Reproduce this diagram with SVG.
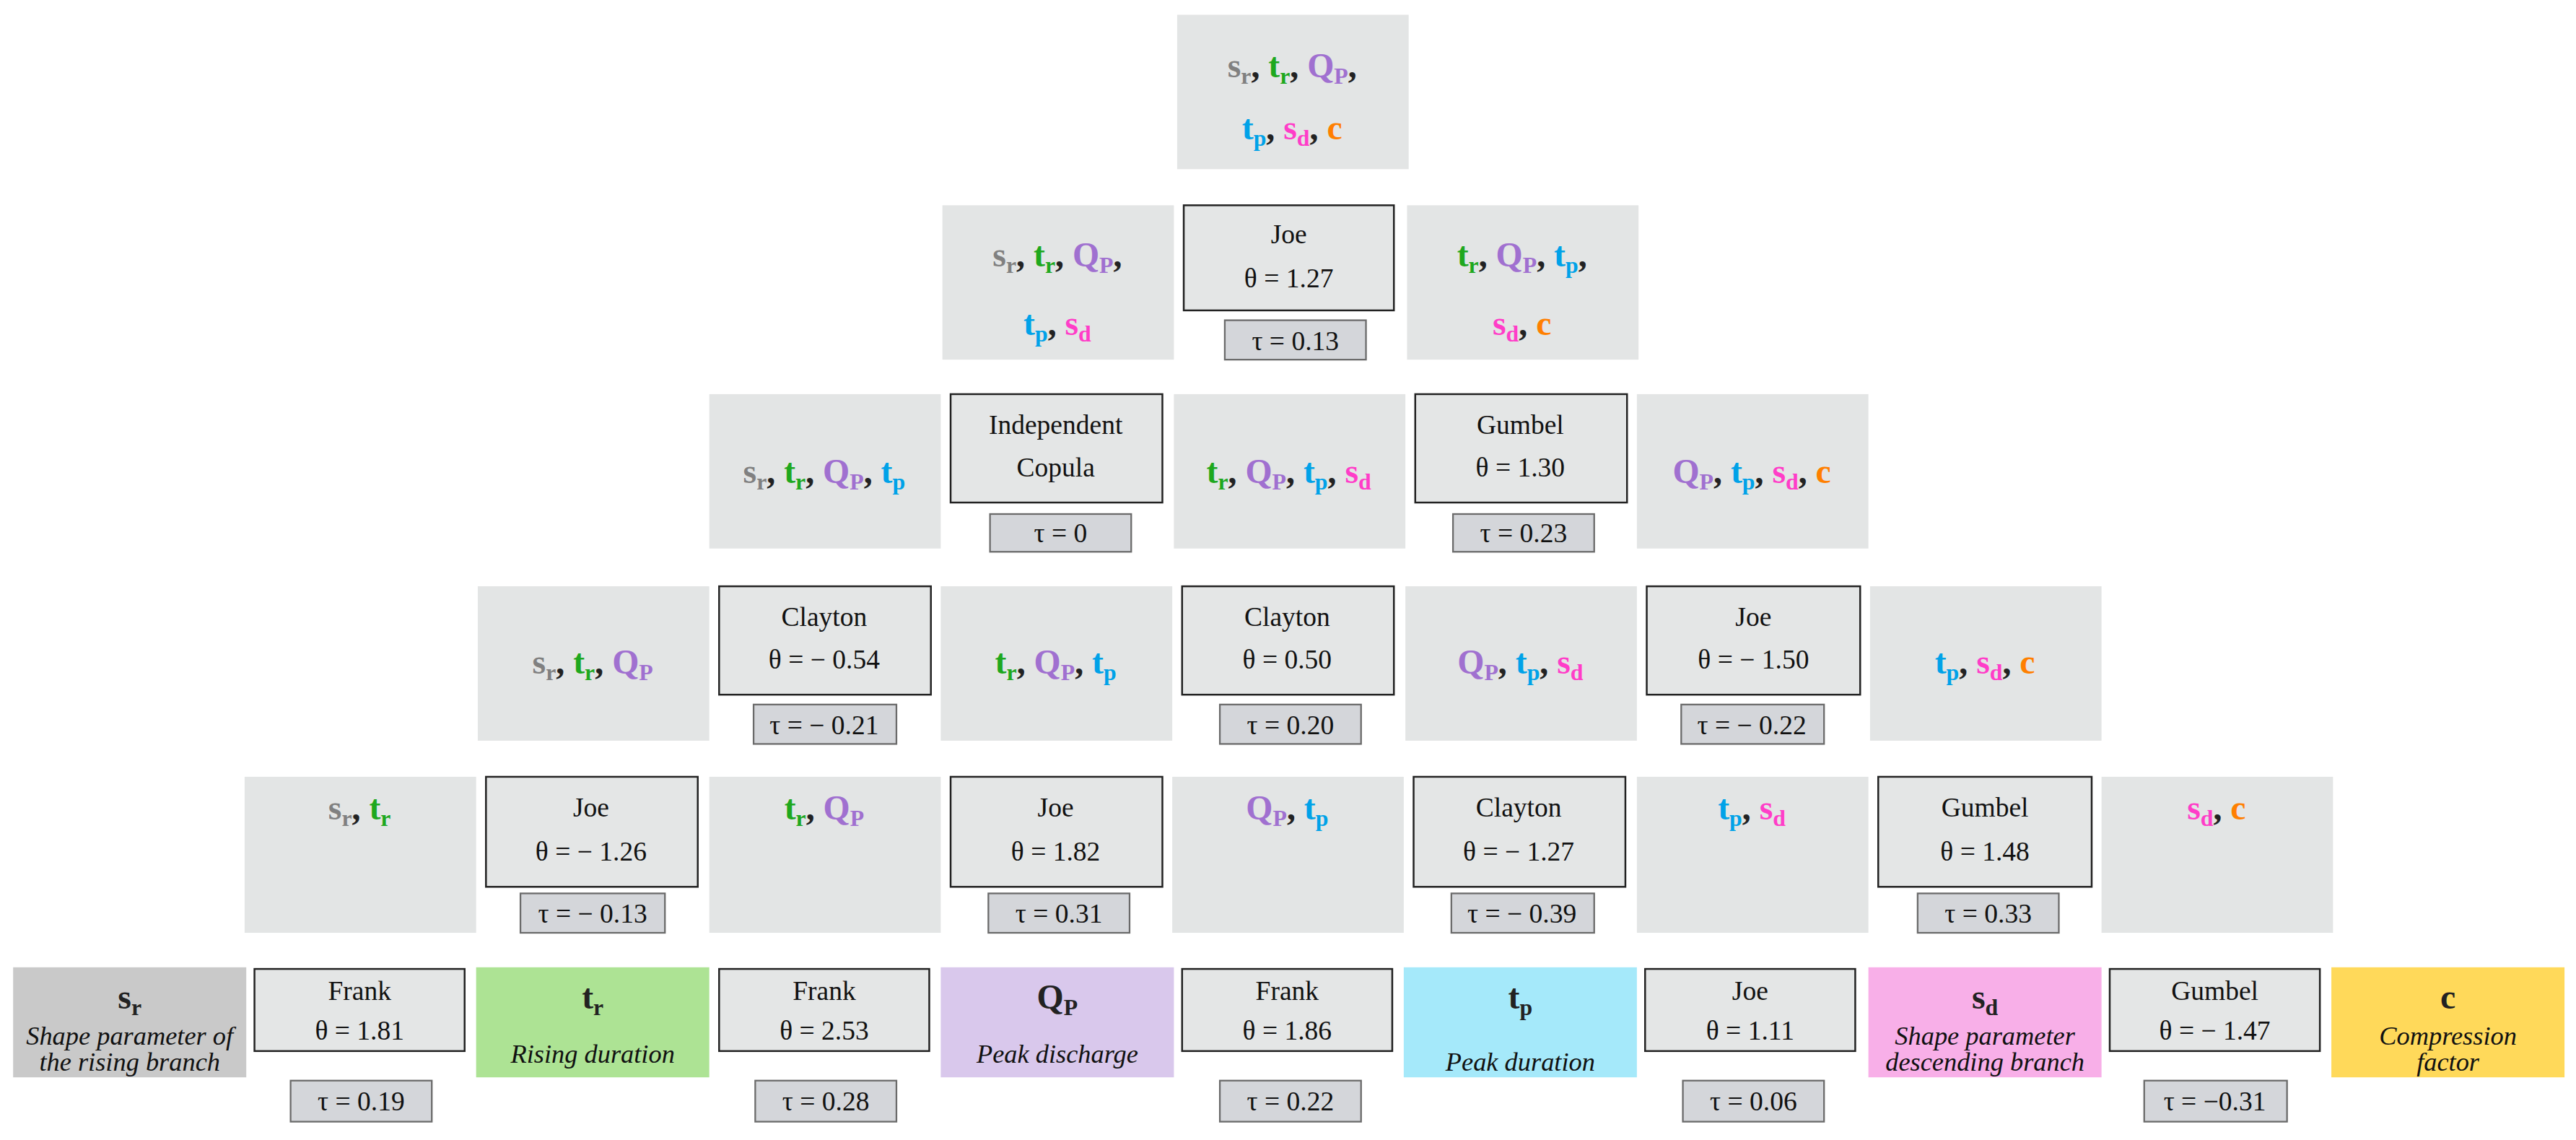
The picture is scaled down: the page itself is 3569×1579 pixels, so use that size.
<svg xmlns="http://www.w3.org/2000/svg" width="3569" height="1579" viewBox="0 0 3569 1579">
<style>
.vb{fill:#e3e5e5}
.cb{fill:#e4e6e6;stroke:#222;stroke-width:1.1}
.tb{fill:#d4d6da;stroke:#6a6a6a;stroke-width:1}
.v{font-family:"Liberation Serif","DejaVu Serif",serif;font-weight:bold;font-size:21px;text-anchor:middle;fill:#222}
.c{font-family:"Liberation Serif","DejaVu Serif",serif;font-size:16.5px;text-anchor:middle;fill:#111}
.d{font-family:"Liberation Serif","DejaVu Serif",serif;font-style:italic;font-size:16px;text-anchor:middle;fill:#111}
.s{font-size:14px}
.gr{fill:#808080}.gn{fill:#1ea81e}.pu{fill:#a070d0}.bl{fill:#00a2e8}.pk{fill:#ff3dc8}.or{fill:#ff7f00}
</style>
<g transform="scale(2.2747)">
<g id="connectors"></g>
<!-- Row 1 -->
<g id="n1"><rect class="vb" x="717" y="9" width="141" height="94"/>
<text class="v" x="787" y="47"><tspan class="gr">s</tspan><tspan class="gr s" dy="4">r</tspan><tspan dy="-4">, </tspan><tspan class="gn">t</tspan><tspan class="gn s" dy="4">r</tspan><tspan dy="-4">, </tspan><tspan class="pu">Q</tspan><tspan class="pu s" dy="4">P</tspan><tspan dy="-4">,</tspan></text>
<text class="v" x="787" y="85"><tspan class="bl">t</tspan><tspan class="bl s" dy="4">p</tspan><tspan dy="-4">, </tspan><tspan class="pk">s</tspan><tspan class="pk s" dy="4">d</tspan><tspan dy="-4">, </tspan><tspan class="or">c</tspan></text></g>
<!-- Row 2 -->
<g id="n2a"><rect class="vb" x="574" y="125" width="141" height="94"/>
<text class="v" x="644" y="162"><tspan class="gr">s</tspan><tspan class="gr s" dy="4">r</tspan><tspan dy="-4">, </tspan><tspan class="gn">t</tspan><tspan class="gn s" dy="4">r</tspan><tspan dy="-4">, </tspan><tspan class="pu">Q</tspan><tspan class="pu s" dy="4">P</tspan><tspan dy="-4">,</tspan></text>
<text class="v" x="644" y="204"><tspan class="bl">t</tspan><tspan class="bl s" dy="4">p</tspan><tspan dy="-4">, </tspan><tspan class="pk">s</tspan><tspan class="pk s" dy="4">d</tspan></text></g>
<g id="c2a"><rect class="cb" x="721" y="125" width="128" height="64"/><text class="c" x="785" y="148">Joe</text><text class="c" x="785" y="175">θ = 1.27</text>
<rect class="tb" x="746" y="195" width="86" height="24"/><text class="c" x="789" y="213">τ = 0.13</text></g>
<g id="n2b"><rect class="vb" x="857" y="125" width="141" height="94"/>
<text class="v" x="927" y="162"><tspan class="gn">t</tspan><tspan class="gn s" dy="4">r</tspan><tspan dy="-4">, </tspan><tspan class="pu">Q</tspan><tspan class="pu s" dy="4">P</tspan><tspan dy="-4">, </tspan><tspan class="bl">t</tspan><tspan class="bl s" dy="4">p</tspan><tspan dy="-4">,</tspan></text>
<text class="v" x="927" y="204"><tspan class="pk">s</tspan><tspan class="pk s" dy="4">d</tspan><tspan dy="-4">, </tspan><tspan class="or">c</tspan></text></g>
<!-- Row 3 -->
<g id="n3a"><rect class="vb" x="432" y="240" width="141" height="94"/>
<text class="v" x="502" y="294"><tspan class="gr">s</tspan><tspan class="gr s" dy="4">r</tspan><tspan dy="-4">, </tspan><tspan class="gn">t</tspan><tspan class="gn s" dy="4">r</tspan><tspan dy="-4">, </tspan><tspan class="pu">Q</tspan><tspan class="pu s" dy="4">P</tspan><tspan dy="-4">, </tspan><tspan class="bl">t</tspan><tspan class="bl s" dy="4">p</tspan></text></g>
<g id="c3a"><rect class="cb" x="579" y="240" width="129" height="66"/><text class="c" x="643" y="264">Independent</text><text class="c" x="643" y="290">Copula</text>
<rect class="tb" x="603" y="313" width="86" height="23"/><text class="c" x="646" y="330">τ = 0</text></g>
<g id="n3b"><rect class="vb" x="715" y="240" width="141" height="94"/>
<text class="v" x="785" y="294"><tspan class="gn">t</tspan><tspan class="gn s" dy="4">r</tspan><tspan dy="-4">, </tspan><tspan class="pu">Q</tspan><tspan class="pu s" dy="4">P</tspan><tspan dy="-4">, </tspan><tspan class="bl">t</tspan><tspan class="bl s" dy="4">p</tspan><tspan dy="-4">, </tspan><tspan class="pk">s</tspan><tspan class="pk s" dy="4">d</tspan></text></g>
<g id="c3b"><rect class="cb" x="862" y="240" width="129" height="66"/><text class="c" x="926" y="264">Gumbel</text><text class="c" x="926" y="290">θ = 1.30</text>
<rect class="tb" x="885" y="313" width="86" height="23"/><text class="c" x="928" y="330">τ = 0.23</text></g>
<g id="n3c"><rect class="vb" x="997" y="240" width="141" height="94"/>
<text class="v" x="1067" y="294"><tspan class="pu">Q</tspan><tspan class="pu s" dy="4">P</tspan><tspan dy="-4">, </tspan><tspan class="bl">t</tspan><tspan class="bl s" dy="4">p</tspan><tspan dy="-4">, </tspan><tspan class="pk">s</tspan><tspan class="pk s" dy="4">d</tspan><tspan dy="-4">, </tspan><tspan class="or">c</tspan></text></g>
<!-- Row 4 -->
<g id="n4a"><rect class="vb" x="291" y="357" width="141" height="94"/>
<text class="v" x="361" y="410"><tspan class="gr">s</tspan><tspan class="gr s" dy="4">r</tspan><tspan dy="-4">, </tspan><tspan class="gn">t</tspan><tspan class="gn s" dy="4">r</tspan><tspan dy="-4">, </tspan><tspan class="pu">Q</tspan><tspan class="pu s" dy="4">P</tspan></text></g>
<g id="c4a"><rect class="cb" x="438" y="357" width="129" height="66"/><text class="c" x="502" y="381">Clayton</text><text class="c" x="502" y="407">θ = − 0.54</text>
<rect class="tb" x="459" y="429" width="87" height="24"/><text class="c" x="502" y="447">τ = − 0.21</text></g>
<g id="n4b"><rect class="vb" x="573" y="357" width="141" height="94"/>
<text class="v" x="643" y="410"><tspan class="gn">t</tspan><tspan class="gn s" dy="4">r</tspan><tspan dy="-4">, </tspan><tspan class="pu">Q</tspan><tspan class="pu s" dy="4">P</tspan><tspan dy="-4">, </tspan><tspan class="bl">t</tspan><tspan class="bl s" dy="4">p</tspan></text></g>
<g id="c4b"><rect class="cb" x="720" y="357" width="129" height="66"/><text class="c" x="784" y="381">Clayton</text><text class="c" x="784" y="407">θ = 0.50</text>
<rect class="tb" x="743" y="429" width="86" height="24"/><text class="c" x="786" y="447">τ = 0.20</text></g>
<g id="n4c"><rect class="vb" x="856" y="357" width="141" height="94"/>
<text class="v" x="926" y="410"><tspan class="pu">Q</tspan><tspan class="pu s" dy="4">P</tspan><tspan dy="-4">, </tspan><tspan class="bl">t</tspan><tspan class="bl s" dy="4">p</tspan><tspan dy="-4">, </tspan><tspan class="pk">s</tspan><tspan class="pk s" dy="4">d</tspan></text></g>
<g id="c4c"><rect class="cb" x="1003" y="357" width="130" height="66"/><text class="c" x="1068" y="381">Joe</text><text class="c" x="1068" y="407">θ = − 1.50</text>
<rect class="tb" x="1024" y="429" width="87" height="24"/><text class="c" x="1067" y="447">τ = − 0.22</text></g>
<g id="n4d"><rect class="vb" x="1139" y="357" width="141" height="94"/>
<text class="v" x="1209" y="410"><tspan class="bl">t</tspan><tspan class="bl s" dy="4">p</tspan><tspan dy="-4">, </tspan><tspan class="pk">s</tspan><tspan class="pk s" dy="4">d</tspan><tspan dy="-4">, </tspan><tspan class="or">c</tspan></text></g>
<!-- Row 5 -->
<g id="n5a"><rect class="vb" x="149" y="473" width="141" height="95"/>
<text class="v" x="219" y="499"><tspan class="gr">s</tspan><tspan class="gr s" dy="4">r</tspan><tspan dy="-4">, </tspan><tspan class="gn">t</tspan><tspan class="gn s" dy="4">r</tspan></text></g>
<g id="c5a"><rect class="cb" x="296" y="473" width="129" height="67"/><text class="c" x="360" y="497">Joe</text><text class="c" x="360" y="524">θ = − 1.26</text>
<rect class="tb" x="317" y="544" width="88" height="24"/><text class="c" x="361" y="562">τ = − 0.13</text></g>
<g id="n5b"><rect class="vb" x="432" y="473" width="141" height="95"/>
<text class="v" x="502" y="499"><tspan class="gn">t</tspan><tspan class="gn s" dy="4">r</tspan><tspan dy="-4">, </tspan><tspan class="pu">Q</tspan><tspan class="pu s" dy="4">P</tspan></text></g>
<g id="c5b"><rect class="cb" x="579" y="473" width="129" height="67"/><text class="c" x="643" y="497">Joe</text><text class="c" x="643" y="524">θ = 1.82</text>
<rect class="tb" x="602" y="544" width="86" height="24"/><text class="c" x="645" y="562">τ = 0.31</text></g>
<g id="n5c"><rect class="vb" x="714" y="473" width="141" height="95"/>
<text class="v" x="784" y="499"><tspan class="pu">Q</tspan><tspan class="pu s" dy="4">P</tspan><tspan dy="-4">, </tspan><tspan class="bl">t</tspan><tspan class="bl s" dy="4">p</tspan></text></g>
<g id="c5c"><rect class="cb" x="861" y="473" width="129" height="67"/><text class="c" x="925" y="497">Clayton</text><text class="c" x="925" y="524">θ = − 1.27</text>
<rect class="tb" x="884" y="544" width="87" height="24"/><text class="c" x="927" y="562">τ = − 0.39</text></g>
<g id="n5d"><rect class="vb" x="997" y="473" width="141" height="95"/>
<text class="v" x="1067" y="499"><tspan class="bl">t</tspan><tspan class="bl s" dy="4">p</tspan><tspan dy="-4">, </tspan><tspan class="pk">s</tspan><tspan class="pk s" dy="4">d</tspan></text></g>
<g id="c5d"><rect class="cb" x="1144" y="473" width="130" height="67"/><text class="c" x="1209" y="497">Gumbel</text><text class="c" x="1209" y="524">θ = 1.48</text>
<rect class="tb" x="1168" y="544" width="86" height="24"/><text class="c" x="1211" y="562">τ =  0.33</text></g>
<g id="n5e"><rect class="vb" x="1280" y="473" width="141" height="95"/>
<text class="v" x="1350" y="499"><tspan class="pk">s</tspan><tspan class="pk s" dy="4">d</tspan><tspan dy="-4">, </tspan><tspan class="or">c</tspan></text></g>
<!-- Row 6 -->
<g id="sr"><rect x="8" y="589" width="142" height="67" fill="#c9c9c9"/>
<text class="v" x="79" y="614">s<tspan class="s" dy="4">r</tspan></text>
<text class="d" x="79" y="636">Shape parameter of</text><text class="d" x="79" y="652">the rising branch</text></g>
<g id="c6a"><rect class="cb" x="155" y="590" width="128" height="50"/><text class="c" x="219" y="609">Frank</text><text class="c" x="219" y="633">θ = 1.81</text>
<rect class="tb" x="177" y="658" width="86" height="25"/><text class="c" x="220" y="676">τ = 0.19</text></g>
<g id="tr"><rect x="290" y="589" width="142" height="67" fill="#ade394"/>
<text class="v" x="361" y="614">t<tspan class="s" dy="4">r</tspan></text>
<text class="d" x="361" y="647">Rising duration</text></g>
<g id="c6b"><rect class="cb" x="438" y="590" width="128" height="50"/><text class="c" x="502" y="609">Frank</text><text class="c" x="502" y="633">θ = 2.53</text>
<rect class="tb" x="460" y="658" width="86" height="25"/><text class="c" x="503" y="676">τ = 0.28</text></g>
<g id="qp"><rect x="573" y="589" width="142" height="67" fill="#d9c8ec"/>
<text class="v" x="644" y="614">Q<tspan class="s" dy="4">P</tspan></text>
<text class="d" x="644" y="647">Peak discharge</text></g>
<g id="c6c"><rect class="cb" x="720" y="590" width="128" height="50"/><text class="c" x="784" y="609">Frank</text><text class="c" x="784" y="633">θ = 1.86</text>
<rect class="tb" x="743" y="658" width="86" height="25"/><text class="c" x="786" y="676">τ = 0.22</text></g>
<g id="tp"><rect x="855" y="589" width="142" height="67" fill="#a5e9fa"/>
<text class="v" x="926" y="614">t<tspan class="s" dy="4">p</tspan></text>
<text class="d" x="926" y="652">Peak duration</text></g>
<g id="c6d"><rect class="cb" x="1002" y="590" width="128" height="50"/><text class="c" x="1066" y="609">Joe</text><text class="c" x="1066" y="633">θ = 1.11</text>
<rect class="tb" x="1025" y="658" width="86" height="25"/><text class="c" x="1068" y="676">τ = 0.06</text></g>
<g id="sd"><rect x="1138" y="589" width="142" height="67" fill="#f8afe8"/>
<text class="v" x="1209" y="614">s<tspan class="s" dy="4">d</tspan></text>
<text class="d" x="1209" y="636">Shape parameter</text><text class="d" x="1209" y="652">descending branch</text></g>
<g id="c6e"><rect class="cb" x="1285" y="590" width="128" height="50"/><text class="c" x="1349" y="609">Gumbel</text><text class="c" x="1349" y="633">θ = − 1.47</text>
<rect class="tb" x="1306" y="658" width="87" height="25"/><text class="c" x="1349" y="676">τ = −0.31</text></g>
<g id="c"><rect x="1420" y="589" width="142" height="67" fill="#ffd95a"/>
<text class="v" x="1491" y="614">c</text>
<text class="d" x="1491" y="636">Compression</text><text class="d" x="1491" y="652">factor</text></g>
</g>
</svg>
